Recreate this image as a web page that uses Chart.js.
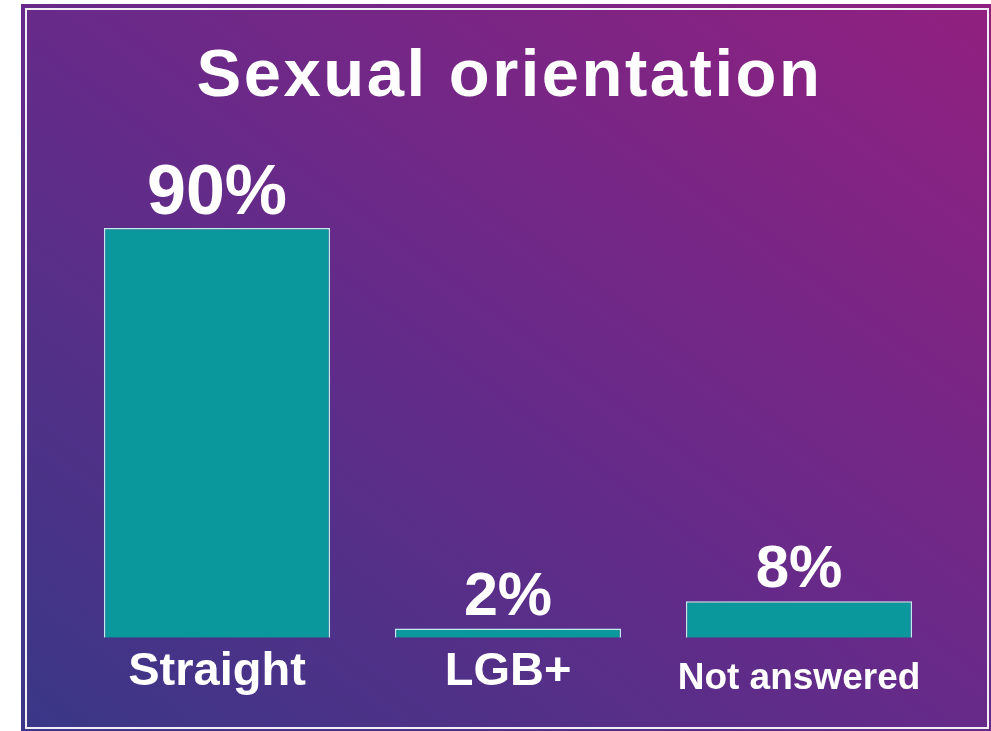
<!DOCTYPE html>
<html>
<head>
<meta charset="utf-8">
<script src="https://cdn.jsdelivr.net/npm/chart.js@4"></script>
<style>
  html, body { margin: 0; padding: 0; background: #fff; width: 991px; height: 731px; overflow: hidden; }
  .frame {
    position: absolute; left: 21px; top: 4px; width: 980px; height: 740px;
    background: linear-gradient(to top right, #3a3787, #66298a 50%, #902080);
  }
  .inner {
    position: absolute; left: 25px; top: 8px; width: 960px; height: 717px;
    border: 2px solid #f2eef6;
    background: linear-gradient(to top right, #3a3787, #672a89 50%, #912080);
  }
  .wrap { position: absolute; left: 0; top: 0; width: 991px; height: 731px; }
</style>
</head>
<body>
<div class="frame"></div>
<div class="inner"></div>
<div class="wrap"><canvas id="myChart"></canvas></div>
<script>
const titulo = "Sexual orientation";
const categorias = ["Straight", "LGB+", "Not answered"];
const porcentajes = [90, 2, 8];
const etiquetas = ["90%", "2%", "8%"];

const fuente = "'Liberation Sans', Arial, sans-serif";

// tamaños de letra por categoría
const tamCategoria = [47, 47, 37];
const altoLinea = [1.2, 1.2, 1.9];
const tamValor = [70, 61, 60];

// Título dibujado a mano para poder espaciar las letras
const tituloPlugin = {
  id: "tituloPlugin",
  afterDraw(chart) {
    const ctx = chart.ctx;
    const area = chart.chartArea;
    ctx.save();
    ctx.fillStyle = "#ffffff";
    ctx.font = "bold 67px " + fuente;
    ctx.letterSpacing = "2.5px";
    ctx.textAlign = "center";
    ctx.textBaseline = "alphabetic";
    ctx.fillText(titulo, (area.left + area.right) / 2 + 1.5, 96);
    ctx.restore();
  },
};

const etiquetasValor = {
  id: "etiquetasValor",
  afterDatasetsDraw(chart) {
    const ctx = chart.ctx;
    const meta = chart.getDatasetMeta(0);
    ctx.save();
    ctx.fillStyle = "#ffffff";
    ctx.textAlign = "center";
    ctx.textBaseline = "alphabetic";
    meta.data.forEach((bar, i) => {
      ctx.font = "bold " + tamValor[i] + "px " + fuente;
      ctx.fillText(etiquetas[i], bar.x, bar.y - 14);
    });
    ctx.restore();
  },
};

const config = {
  type: "bar",
  data: {
    labels: categorias,
    datasets: [
      {
        data: porcentajes,
        backgroundColor: "#0a989d",
        borderColor: "#c4ebee",
        borderWidth: 1.5,
        categoryPercentage: 1,
        barPercentage: 0.777,
      },
    ],
  },
  options: {
    responsive: true,
    maintainAspectRatio: false,
    animation: false,
    layout: { padding: { left: 71.5, right: 46.5, top: 182.6, bottom: 11 } },
    plugins: {
      legend: { display: false },
      tooltip: { enabled: false },
      title: { display: false },
    },
    scales: {
      x: {
        grid: { display: false, drawTicks: false },
        border: { display: false },
        ticks: {
          color: "#ffffff",
          padding: 6,
          font: (c) => ({
            family: fuente,
            size: tamCategoria[c.index] || 47,
            weight: "bold",
            lineHeight: altoLinea[c.index] || 1.2,
          }),
        },
      },
      y: {
        display: false,
        min: 0,
        max: 100,
      },
    },
  },
  plugins: [etiquetasValor, tituloPlugin],
};

new Chart(document.getElementById("myChart"), config);
</script>
</body>
</html>
